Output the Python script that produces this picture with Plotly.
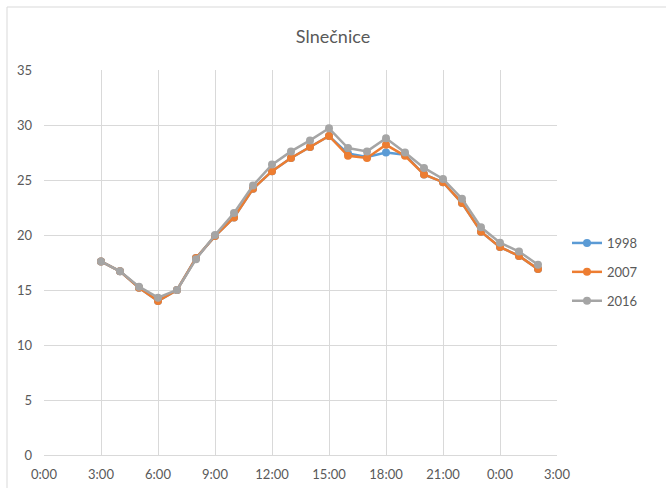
import plotly.graph_objects as go

hours = [3, 4, 5, 6, 7, 8, 9, 10, 11, 12, 13, 14, 15, 16, 17, 18, 19, 20, 21, 22, 23, 24, 25, 26]
y1998 = [17.6, 16.7, 15.2, 14.0, 15.0, 17.9, 19.9, 21.6, 24.2, 25.8, 27.0, 28.0, 29.0, 27.4, 27.1, 27.5, 27.3, 25.5, 24.8, 22.9, 20.3, 18.9, 18.1, 16.9]
y2007 = [17.6, 16.7, 15.2, 14.0, 15.0, 17.9, 19.9, 21.6, 24.2, 25.8, 27.0, 28.0, 29.0, 27.2, 27.0, 28.2, 27.2, 25.5, 24.8, 22.9, 20.3, 18.9, 18.1, 16.9]
y2016 = [17.6, 16.7, 15.3, 14.3, 15.0, 17.8, 20.0, 22.0, 24.5, 26.4, 27.6, 28.6, 29.7, 27.9, 27.6, 28.8, 27.5, 26.1, 25.1, 23.3, 20.7, 19.3, 18.5, 17.3]

series_names = ["1998", "2007", "2016"]
series_colors = ["#5B9BD5", "#ED7D31", "#A5A5A5"]

tick_vals = [0, 3, 6, 9, 12, 15, 18, 21, 24, 27]
tick_text = ["0:00", "3:00", "6:00", "9:00", "12:00", "15:00", "18:00", "21:00", "0:00", "3:00"]

FONT = "Lato, Calibri, Carlito, sans-serif"
TXT = "#595959"
GRID = "#D9D9D9"

fig = go.Figure()
for name, vals, col in zip(series_names, [y1998, y2007, y2016], series_colors):
    fig.add_trace(go.Scatter(
        x=hours, y=vals, name=name, mode="lines+markers",
        line=dict(color=col, width=2.5),
        marker=dict(color=col, size=8),
        legendgroup=name,
    ))

# plot area pixels
L, R, T, B = 44, 557, 70, 455
W, H = 666, 488
pw, ph = R - L, B - T

def px_x(x):
    return (x - L) / pw

def px_y(y):
    return (B - y) / ph

fig.update_layout(
    width=W, height=H,
    margin=dict(l=L, r=W - R, t=T, b=H - B, pad=0, autoexpand=False),
    paper_bgcolor="white", plot_bgcolor="white",
    font=dict(family=FONT, color=TXT, size=12),
    title=dict(text="Slnečnice", x=0.5, xref="container", xanchor="center",
               y=1 - 37 / H, yref="container", yanchor="middle",
               font=dict(size=18, color=TXT, family=FONT)),
    xaxis=dict(range=[0, 27], tickvals=tick_vals, ticktext=tick_text,
               showgrid=True, gridcolor=GRID, gridwidth=1,
               showline=True, linecolor=GRID, linewidth=1,
               zeroline=False, ticks="", tickfont=dict(size=13, color=TXT),
               ticklabelstandoff=7, automargin=False, fixedrange=True),
    yaxis=dict(range=[0, 35], dtick=5, tick0=0,
               showgrid=True, gridcolor=GRID, gridwidth=1,
               showline=False, zeroline=False, ticks="",
               ticklabelstandoff=11, automargin=False,
               tickfont=dict(size=13, color=TXT), fixedrange=True),
    legend=dict(x=px_x(567), xanchor="left", y=px_y(272), yanchor="middle",
                font=dict(size=13, color=TXT, family=FONT),
                tracegroupgap=9, itemwidth=30, bgcolor="rgba(0,0,0,0)"),
    showlegend=True,
    shapes=[dict(type="rect", xref="paper", yref="paper",
                 x0=px_x(7), x1=px_x(700), y0=px_y(7), y1=px_y(520),
                 line=dict(color=GRID, width=1), fillcolor="rgba(0,0,0,0)",
                 layer="below")],
)

fig.write_html("out.html", config={"displayModeBar": False},
               post_script="document.body.style.margin='0';")
